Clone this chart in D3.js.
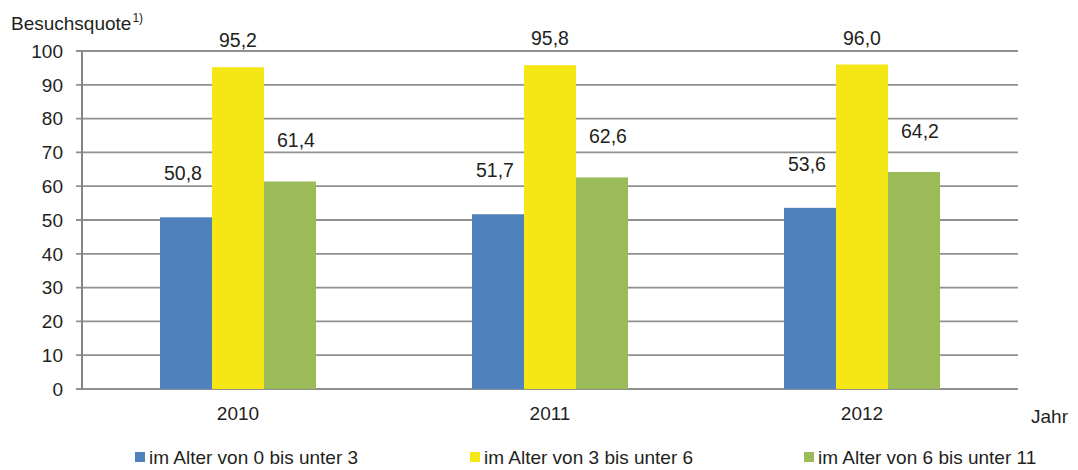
<!DOCTYPE html>
<html>
<head>
<meta charset="utf-8">
<script src="https://cdn.jsdelivr.net/npm/d3@7"></script>
<style>
  html, body { margin: 0; padding: 0; background: #fff; }
  svg { display: block; }
  text { font-family: "Liberation Sans", Arial, sans-serif; fill: #231f20; }
</style>
</head>
<body>
<svg id="chart" width="1078" height="470"></svg>
<script>
// ---- data ----
const years = ["2010", "2011", "2012"];
const seriesNames = ["im Alter von 0 bis unter 3", "im Alter von 3 bis unter 6", "im Alter von 6 bis unter 11"];
const age0to3 = [50.8, 51.7, 53.6];
const age3to6 = [95.2, 95.8, 96.0];
const age6to11 = [61.4, 62.6, 64.2];
const yTicks = [0, 10, 20, 30, 40, 50, 60, 70, 80, 90, 100];
const yTitle = "Besuchsquote";
const yTitleSup = "1)";
const xTitle = "Jahr";

// ---- styles ----
const colors = ["#4f81bd", "#f5e616", "#9bbb59"];
const labelOffset = [37, 20, 34];
const labelDx = [-3, 0, 6];
const fs = 19;
const fsLabel = 19.5;

const seriesValues = [age0to3, age3to6, age6to11];
const svg = d3.select("#chart");

const plotLeft = 82, plotRight = 1018, plotTop = 51, plotBottom = 389;

const x0 = d3.scaleBand().domain(years).range([plotLeft, plotRight]).paddingInner(0.5).paddingOuter(0.25);
const x1 = d3.scaleBand().domain(d3.range(3)).range([0, x0.bandwidth()]);
const y = d3.scaleLinear().domain([0, 100]).range([plotBottom, plotTop]);

// gridlines
svg.append("g").selectAll("line").data(yTicks).join("line")
  .attr("x1", plotLeft - 6).attr("x2", plotRight)
  .attr("y1", d => y(d)).attr("y2", d => y(d))
  .attr("stroke", "#909090").attr("stroke-width", 1.8);

// y axis line
svg.append("line").attr("x1", plotLeft).attr("x2", plotLeft)
  .attr("y1", y(100)).attr("y2", y(0) + 1)
  .attr("stroke", "#858585").attr("stroke-width", 2);

// y tick labels
svg.append("g").selectAll("text").data(yTicks).join("text")
  .attr("x", 63).attr("y", d => y(d))
  .attr("dy", "0.36em")
  .attr("text-anchor", "end")
  .style("font-size", fs + "px")
  .text(d => d);

// bars
const rows = years.map((yr, i) => ({ yr, vals: seriesValues.map(s => s[i]) }));
const groups = svg.append("g").selectAll("g").data(rows).join("g")
  .attr("transform", d => `translate(${x0(d.yr)},0)`);

groups.selectAll("rect").data(d => d.vals.map((v, k) => ({ v, k }))).join("rect")
  .attr("x", d => x1(d.k))
  .attr("width", x1.bandwidth())
  .attr("y", d => y(d.v))
  .attr("height", d => y(0) - y(d.v))
  .attr("fill", d => colors[d.k]);

groups.selectAll("text").data(d => d.vals.map((v, k) => ({ v, k }))).join("text")
  .attr("x", d => x1(d.k) + x1.bandwidth() / 2 + labelDx[d.k])
  .attr("y", d => y(d.v) - labelOffset[d.k])
  .attr("text-anchor", "middle")
  .style("font-size", fsLabel + "px")
  .text(d => d3.format(".1f")(d.v).replace(".", ","));

// x category labels
svg.append("g").selectAll("text").data(years).join("text")
  .attr("x", d => x0(d) + x0.bandwidth() / 2)
  .attr("y", 420)
  .attr("text-anchor", "middle")
  .style("font-size", fs + "px")
  .text(d => d);

// x title
svg.append("text").attr("x", 1031).attr("y", 423)
  .style("font-size", fs + "px").text(xTitle);

// y title
const yt = svg.append("text").attr("x", 11).attr("y", 30).style("font-size", fs + "px");
yt.append("tspan").text(yTitle);
yt.append("tspan").attr("dx", 1).attr("dy", -8).style("font-size", "12px").text(yTitleSup);

// legend
const legendX = [135, 470, 804];
const lg = svg.append("g").selectAll("g").data(seriesNames).join("g")
  .attr("transform", (d, i) => `translate(${legendX[i]},0)`);
lg.append("rect").attr("x", 0).attr("y", 452).attr("width", 10).attr("height", 10)
  .attr("fill", (d, i) => colors[i]);
lg.append("text").attr("x", 14).attr("y", 463.5)
  .style("font-size", fs + "px").text(d => d);
</script>
</body>
</html>
